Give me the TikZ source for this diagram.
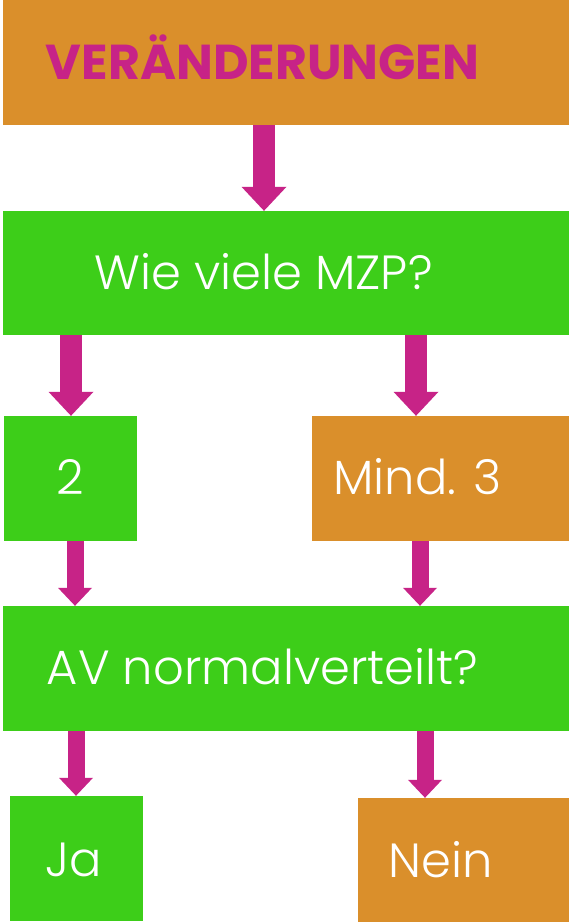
\documentclass[tikz,border=0pt]{standalone}
\usepackage{fontspec}
\setmainfont{Poppins}
\newfontfamily\leicht{Poppins Light}
\usetikzlibrary{arrows.meta}

\definecolor{orangeV}{RGB}{218,143,43}
\definecolor{gruenV}{RGB}{61,206,25}
\definecolor{magentaV}{RGB}{199,35,135}

\begin{document}
\begin{tikzpicture}[x=1pt, y=-1pt,
	kasten/.style={inner sep=0pt, minimum height=125pt},
	schrift/.style={text=white, font=\leicht\fontsize{48}{48}\selectfont, inner sep=0pt, anchor=base},
	pfeil/.style={magentaV, line width=22pt, -{Triangle[width=45pt, length=24pt, line width=0pt]}},
	pfeilklein/.style={magentaV, line width=17pt, -{Triangle[width=34pt, length=18pt, line width=0pt]}}]

	\fill[white] (0,0) rectangle (569,922);
	\useasboundingbox (0,0) rectangle (569,922);

	% Kaesten
	\node[kasten, fill=orangeV, minimum width=566pt] (titel) at (286,62.5) {};
	\node[kasten, fill=gruenV, minimum width=566pt, minimum height=124pt] (frage) at (286,273) {};
	\node[kasten, fill=gruenV, minimum width=133pt] (zwei) at (70.5,478.5) {};
	\node[kasten, fill=orangeV, minimum width=257pt] (mind) at (440.5,478.5) {};
	\node[kasten, fill=gruenV, minimum width=566pt] (av) at (286,668.5) {};
	\node[kasten, fill=gruenV, minimum width=133pt] (ja) at (76.5,858.5) {};
	\node[kasten, fill=orangeV, minimum width=211pt, minimum height=124pt] (nein) at (463.5,860) {};

	% Texte
	\node[schrift, text=magentaV, font=\bfseries\fontsize{49}{49}\selectfont] (titeltext) at (262.5,79) {VERÄNDERUNGEN};
	\node[schrift] (fragetext) at (263.5,289) {Wie viele MZP?};
	\node[schrift] (zweitext) at (70,494) {2};
	\node[schrift] (mindtext) at (417.5,494) {Mind. 3};
	\node[schrift] (avtext) at (262.5,684) {AV normalverteilt?};
	\node[schrift] (jatext) at (74,876) {Ja};
	\node[schrift] (neintext) at (441,877) {Nein};

	% Pfeile
	\foreach \von/\dv/\nach/\dn in {titel/-22/frage/-22, frage/-215/zwei/0.5, frage/130/mind/-24.5}{
		\draw[pfeil] ([xshift=\dv pt]\von.south) -- ([xshift=\dn pt]\nach.north);
	}
	\foreach \von/\dv/\nach/\dn in {zwei/4.5/av/-211, mind/-20.5/av/134, av/-210/ja/-0.5, av/139/nein/-38.5}{
		\draw[pfeilklein] ([xshift=\dv pt]\von.south) -- ([xshift=\dn pt]\nach.north);
	}

\end{tikzpicture}
\end{document}
